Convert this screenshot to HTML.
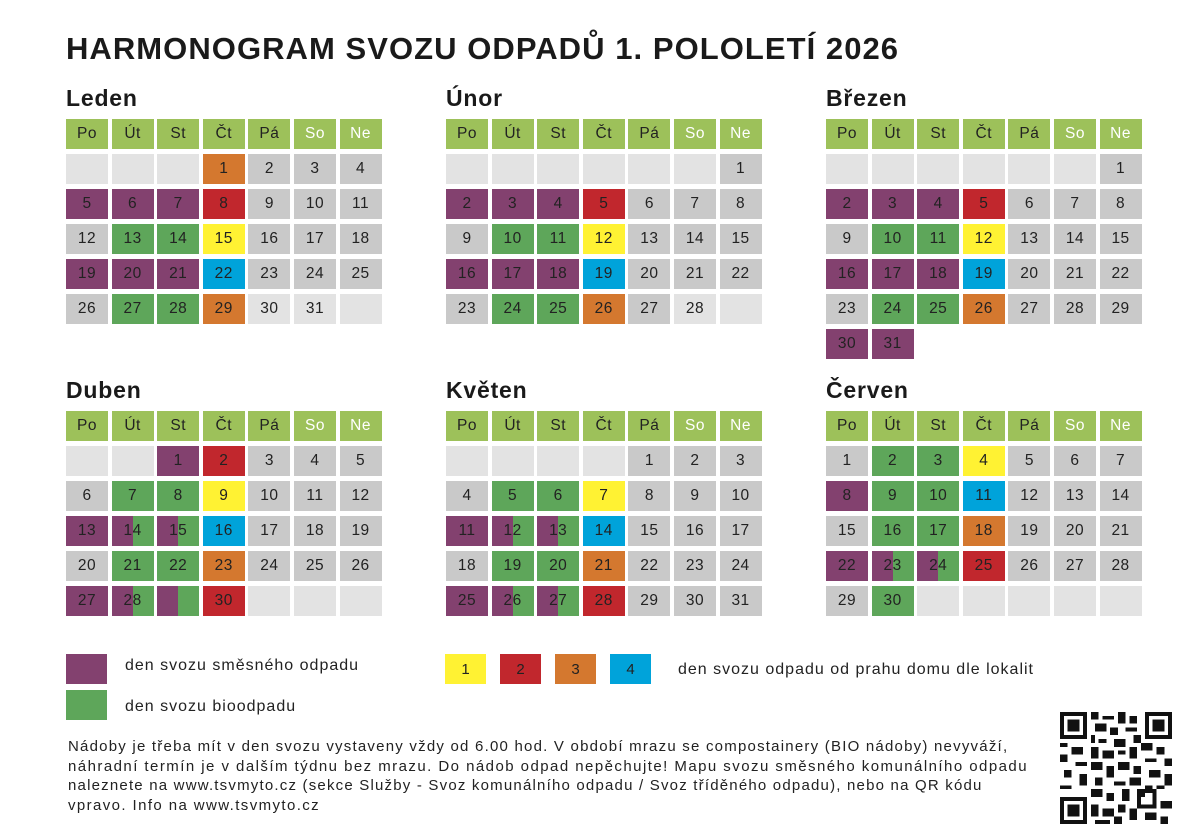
<!DOCTYPE html>
<html><head><meta charset="utf-8"><style>
body{margin:0;width:1190px;height:839px;background:#fff;font-family:"Liberation Sans",sans-serif;color:#222;position:relative;overflow:hidden}
h1{position:absolute;left:66px;top:31px;margin:0;font-size:31px;font-weight:bold;letter-spacing:1.05px;color:#1a1a1a;white-space:nowrap}
.m{position:absolute}
.m h2{margin:0;font-size:23px;font-weight:bold;height:34px;line-height:24px;position:relative;top:1px;letter-spacing:0.8px;color:#1a1a1a}
.g{display:grid;grid-template-columns:repeat(7,42px);column-gap:3.6px;row-gap:5px;grid-auto-rows:30px}
.g div{display:flex;align-items:center;justify-content:center;font-size:15.5px;letter-spacing:0.5px}
.h{background:#9dc15a}.w{color:#fff}
.x{background:#c9c9c9}.l{background:#e3e3e3}.p{background:#83416f}.b{background:#5ea65a}
.y{background:#fff233}.r{background:#c1272d}.o{background:#d4782f}.c{background:#00a3da}
.s{background:linear-gradient(90deg,#83416f 50%,#5ea65a 50%)}
.leg{position:absolute;width:41px;height:30px}
.lt{position:absolute;font-size:16px;letter-spacing:1px;white-space:nowrap}
.lb{position:absolute;width:41px;height:30px;display:flex;align-items:center;justify-content:center;font-size:15px}
.txt{position:absolute;left:68px;top:737px;font-size:15px;line-height:19.5px;white-space:nowrap}
</style></head><body>
<h1>HARMONOGRAM SVOZU ODPADŮ 1. POLOLETÍ 2026</h1>

<div class="m" style="left:66px;top:85px"><h2>Leden</h2><div class="g">
<div class="h">Po</div><div class="h">Út</div><div class="h">St</div><div class="h">Čt</div><div class="h">Pá</div><div class="h w">So</div><div class="h w">Ne</div>
<div class="l"></div><div class="l"></div><div class="l"></div><div class="o">1</div><div class="x">2</div><div class="x">3</div><div class="x">4</div>
<div class="p">5</div><div class="p">6</div><div class="p">7</div><div class="r">8</div><div class="x">9</div><div class="x">10</div><div class="x">11</div>
<div class="x">12</div><div class="b">13</div><div class="b">14</div><div class="y">15</div><div class="x">16</div><div class="x">17</div><div class="x">18</div>
<div class="p">19</div><div class="p">20</div><div class="p">21</div><div class="c">22</div><div class="x">23</div><div class="x">24</div><div class="x">25</div>
<div class="x">26</div><div class="b">27</div><div class="b">28</div><div class="o">29</div><div class="l">30</div><div class="l">31</div><div class="l"></div>
</div></div>

<div class="m" style="left:446px;top:85px"><h2>Únor</h2><div class="g">
<div class="h">Po</div><div class="h">Út</div><div class="h">St</div><div class="h">Čt</div><div class="h">Pá</div><div class="h w">So</div><div class="h w">Ne</div>
<div class="l"></div><div class="l"></div><div class="l"></div><div class="l"></div><div class="l"></div><div class="l"></div><div class="x">1</div>
<div class="p">2</div><div class="p">3</div><div class="p">4</div><div class="r">5</div><div class="x">6</div><div class="x">7</div><div class="x">8</div>
<div class="x">9</div><div class="b">10</div><div class="b">11</div><div class="y">12</div><div class="x">13</div><div class="x">14</div><div class="x">15</div>
<div class="p">16</div><div class="p">17</div><div class="p">18</div><div class="c">19</div><div class="x">20</div><div class="x">21</div><div class="x">22</div>
<div class="x">23</div><div class="b">24</div><div class="b">25</div><div class="o">26</div><div class="x">27</div><div class="l">28</div><div class="l"></div>
</div></div>

<div class="m" style="left:826px;top:85px"><h2>Březen</h2><div class="g">
<div class="h">Po</div><div class="h">Út</div><div class="h">St</div><div class="h">Čt</div><div class="h">Pá</div><div class="h w">So</div><div class="h w">Ne</div>
<div class="l"></div><div class="l"></div><div class="l"></div><div class="l"></div><div class="l"></div><div class="l"></div><div class="x">1</div>
<div class="p">2</div><div class="p">3</div><div class="p">4</div><div class="r">5</div><div class="x">6</div><div class="x">7</div><div class="x">8</div>
<div class="x">9</div><div class="b">10</div><div class="b">11</div><div class="y">12</div><div class="x">13</div><div class="x">14</div><div class="x">15</div>
<div class="p">16</div><div class="p">17</div><div class="p">18</div><div class="c">19</div><div class="x">20</div><div class="x">21</div><div class="x">22</div>
<div class="x">23</div><div class="b">24</div><div class="b">25</div><div class="o">26</div><div class="x">27</div><div class="x">28</div><div class="x">29</div>
<div class="p">30</div><div class="p">31</div>
</div></div>

<div class="m" style="left:66px;top:377px"><h2>Duben</h2><div class="g">
<div class="h">Po</div><div class="h">Út</div><div class="h">St</div><div class="h">Čt</div><div class="h">Pá</div><div class="h w">So</div><div class="h w">Ne</div>
<div class="l"></div><div class="l"></div><div class="p">1</div><div class="r">2</div><div class="x">3</div><div class="x">4</div><div class="x">5</div>
<div class="x">6</div><div class="b">7</div><div class="b">8</div><div class="y">9</div><div class="x">10</div><div class="x">11</div><div class="x">12</div>
<div class="p">13</div><div class="s">14</div><div class="s">15</div><div class="c">16</div><div class="x">17</div><div class="x">18</div><div class="x">19</div>
<div class="x">20</div><div class="b">21</div><div class="b">22</div><div class="o">23</div><div class="x">24</div><div class="x">25</div><div class="x">26</div>
<div class="p">27</div><div class="s">28</div><div class="s"></div><div class="r">30</div><div class="l"></div><div class="l"></div><div class="l"></div>
</div></div>

<div class="m" style="left:446px;top:377px"><h2>Květen</h2><div class="g">
<div class="h">Po</div><div class="h">Út</div><div class="h">St</div><div class="h">Čt</div><div class="h">Pá</div><div class="h w">So</div><div class="h w">Ne</div>
<div class="l"></div><div class="l"></div><div class="l"></div><div class="l"></div><div class="x">1</div><div class="x">2</div><div class="x">3</div>
<div class="x">4</div><div class="b">5</div><div class="b">6</div><div class="y">7</div><div class="x">8</div><div class="x">9</div><div class="x">10</div>
<div class="p">11</div><div class="s">12</div><div class="s">13</div><div class="c">14</div><div class="x">15</div><div class="x">16</div><div class="x">17</div>
<div class="x">18</div><div class="b">19</div><div class="b">20</div><div class="o">21</div><div class="x">22</div><div class="x">23</div><div class="x">24</div>
<div class="p">25</div><div class="s">26</div><div class="s">27</div><div class="r">28</div><div class="x">29</div><div class="x">30</div><div class="x">31</div>
</div></div>

<div class="m" style="left:826px;top:377px"><h2>Červen</h2><div class="g">
<div class="h">Po</div><div class="h">Út</div><div class="h">St</div><div class="h">Čt</div><div class="h">Pá</div><div class="h w">So</div><div class="h w">Ne</div>
<div class="x">1</div><div class="b">2</div><div class="b">3</div><div class="y">4</div><div class="x">5</div><div class="x">6</div><div class="x">7</div>
<div class="p">8</div><div class="b">9</div><div class="b">10</div><div class="c">11</div><div class="x">12</div><div class="x">13</div><div class="x">14</div>
<div class="x">15</div><div class="b">16</div><div class="b">17</div><div class="o">18</div><div class="x">19</div><div class="x">20</div><div class="x">21</div>
<div class="p">22</div><div class="s">23</div><div class="s">24</div><div class="r">25</div><div class="x">26</div><div class="x">27</div><div class="x">28</div>
<div class="x">29</div><div class="b">30</div><div class="l"></div><div class="l"></div><div class="l"></div><div class="l"></div><div class="l"></div>
</div></div>

<div class="leg p" style="left:66px;top:654px"></div>
<div class="lt" style="left:125px;top:657px">den svozu směsného odpadu</div>
<div class="leg b" style="left:66px;top:690px"></div>
<div class="lt" style="left:125px;top:698px">den svozu bioodpadu</div>
<div class="lb y" style="left:445px;top:654px">1</div>
<div class="lb r" style="left:500px;top:654px">2</div>
<div class="lb o" style="left:555px;top:654px">3</div>
<div class="lb c" style="left:610px;top:654px">4</div>
<div class="lt" style="left:678px;top:661px">den svozu odpadu od prahu domu dle lokalit</div>

<div class="txt">
<div style="letter-spacing:1.22px">Nádoby je třeba mít v den svozu vystaveny vždy od 6.00 hod. V období mrazu se compostainery (BIO nádoby) nevyváží,</div>
<div style="letter-spacing:1.45px">náhradní termín je v dalším týdnu bez mrazu. Do nádob odpad nepěchujte! Mapu svozu směsného komunálního odpadu</div>
<div style="letter-spacing:1.2px">naleznete na www.tsvmyto.cz (sekce Služby - Svoz komunálního odpadu / Svoz tříděného odpadu), nebo na QR kódu</div>
<div style="letter-spacing:1.4px">vpravo. Info na www.tsvmyto.cz</div>
</div>

<svg style="position:absolute;left:1060px;top:712px" width="112" height="112" viewBox="0 0 29 29" shape-rendering="crispEdges">
<rect width="29" height="29" fill="#fff"/>
<g fill="#111">
<path d="M0 0h7v7h-7zM1 1v5h5v-5zM2 2h3v3h-3z" fill-rule="evenodd"/>
<path d="M22 0h7v7h-7zM23 1v5h5v-5zM24 2h3v3h-3z" fill-rule="evenodd"/>
<path d="M0 22h7v7h-7zM1 23v5h5v-5zM2 24h3v3h-3z" fill-rule="evenodd"/>
<path d="M8 0h2v2h-2zM11 1h3v1h-3zM15 0h2v3h-2zM18 1h2v2h-2zM9 3h3v2h-3zM13 4h2v2h-2zM17 4h3v1h-3zM8 6h1v2h-1zM10 7h2v1h-2zM14 7h3v2h-3zM19 6h2v2h-2z"/>
<path d="M0 8h2v1h-2zM3 9h3v2h-3zM0 11h2v2h-2zM4 13h3v1h-3zM1 15h2v2h-2zM5 16h2v3h-2zM0 19h3v1h-3zM8 9h2v3h-2zM11 10h3v2h-3zM15 10h2v1h-2zM18 9h2v3h-2zM21 8h3v2h-3zM25 9h2v2h-2zM27 12h2v2h-2zM22 12h3v1h-3z"/>
<path d="M8 13h3v2h-3zM12 14h2v3h-2zM15 13h3v2h-3zM19 14h2v2h-2zM23 15h3v2h-3zM27 16h2v3h-2zM9 17h2v2h-2zM14 18h3v1h-3zM18 17h3v2h-3zM22 19h2v2h-2zM25 19h2v1h-2zM8 20h3v2h-3zM12 21h2v2h-2zM16 20h2v3h-2zM20 21h2v1h-2z"/>
<path d="M20 20h5v5h-5zM21 21v3h3v-3z" fill-rule="evenodd"/>
<path d="M8 24h2v3h-2zM11 25h3v2h-3zM15 24h2v2h-2zM18 25h2v3h-2zM26 23h3v2h-3zM22 26h3v2h-3zM26 27h2v2h-2zM9 28h4v1h-4zM14 27h2v2h-2z"/>
</g></svg>
</body></html>
